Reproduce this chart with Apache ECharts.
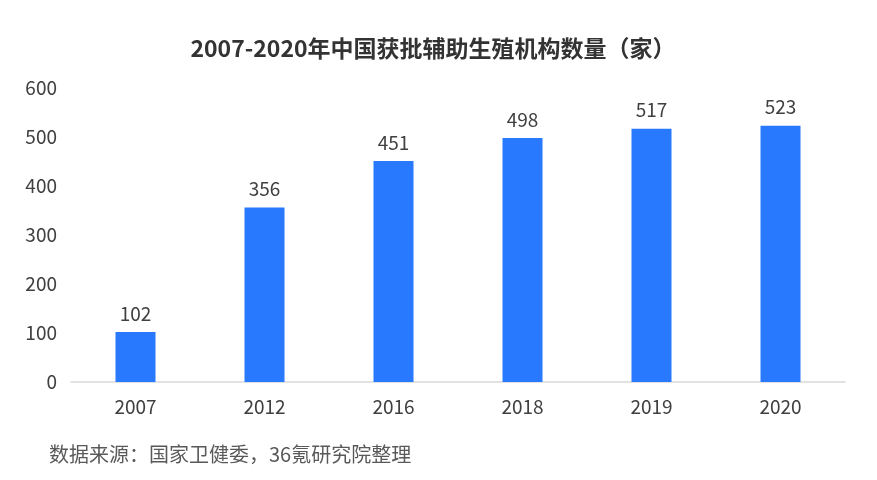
<!DOCTYPE html>
<html><head><meta charset="utf-8">
<script src="https://cdn.jsdelivr.net/npm/echarts@6/dist/echarts.min.js"></script>
<style>html,body{margin:0;padding:0;background:#fff}#c{width:877px;height:480px}</style>
</head><body><div id="c"></div>
<script>
const categories = ['2007','2012','2016','2018','2019','2020'];
const values = [102,356,451,498,517,523];
const yTicks = [0,100,200,300,400,500,600];
const titleText = '2007-2020年中国获批辅助生殖机构数量（家）';
const sourceText = '数据来源：国家卫健委，36氪研究院整理';
const FONT = '"Noto Sans CJK SC", "Noto Sans", sans-serif';
const chart = echarts.init(document.getElementById('c'));
chart.setOption({
  backgroundColor:'#fff',
  animation:false,
  title:[{text:titleText,left:428,top:32,textAlign:'center',textStyle:{fontFamily:FONT,fontSize:23,fontWeight:'bold',color:'#333'}},
         {text:sourceText,left:44,top:439,textStyle:{fontFamily:FONT,fontSize:20,fontWeight:'normal',color:'#595959'}}],
  grid:{left:71,right:32,top:88,bottom:98},
  xAxis:{type:'category',data:categories,axisLine:{lineStyle:{color:'#d9d9d9',width:1.5}},axisTick:{show:false},
    axisLabel:{fontFamily:FONT,fontSize:19,color:'#404040',margin:15}},
  yAxis:{type:'value',min:yTicks[0],max:yTicks[yTicks.length-1],interval:100,splitLine:{show:false},axisLine:{show:false},axisTick:{show:false},
    axisLabel:{fontFamily:FONT,fontSize:19,color:'#404040',margin:14}},
  series:[{type:'bar',data:values,barWidth:40,itemStyle:{color:'#2979FF'},
    label:{show:true,position:'top',distance:9,fontFamily:FONT,fontSize:19,color:'#404040'}}]
});
</script></body></html>
